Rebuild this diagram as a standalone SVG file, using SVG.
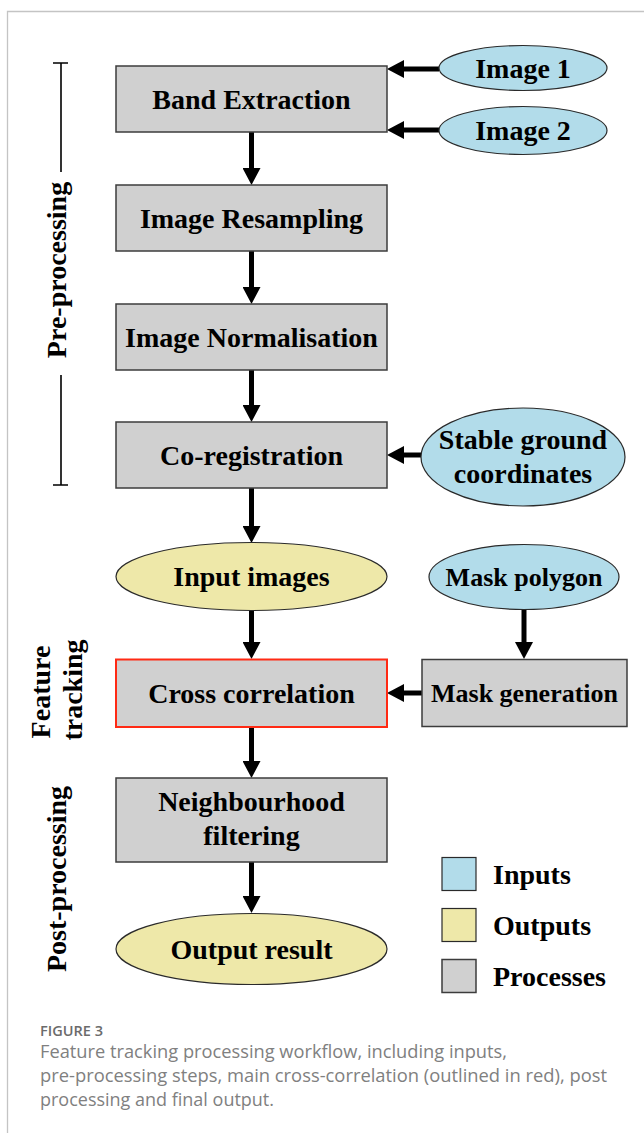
<svg xmlns="http://www.w3.org/2000/svg" width="644" height="1133" viewBox="0 0 644 1133">
<style>
.proc{fill:#d0d0d0;stroke:#3c3c3c;stroke-width:1.5}
.inp{fill:#b2dcea;stroke:#2a2a2a;stroke-width:1.2}
.out{fill:#eee8a9;stroke:#2a2a2a;stroke-width:1.2}
.red{stroke:#ff2a14;stroke-width:2}
.t{font-family:"Liberation Serif","Times New Roman",serif;font-weight:bold;font-size:28px;fill:#000;text-anchor:middle}
.ts{font-size:26px}
.lt{text-anchor:start}
.arr{stroke:#000;stroke-width:5;fill:none;marker-end:url(#ah)}
.br{stroke:#000;stroke-width:1.6;fill:none}
.cap{font-family:"Open Sans","Liberation Sans",sans-serif;fill:#808080;font-size:17.5px}
.fig{font-family:"Open Sans","Liberation Sans",sans-serif;fill:#6b6b6b;font-size:13.5px;font-weight:600}
</style>
<defs>
<marker id="ah" markerUnits="userSpaceOnUse" viewBox="0 0 17 18" markerWidth="17" markerHeight="18" refX="1" refY="9" orient="auto">
<path d="M0,0 L17,9 L0,18 z" fill="#000"/>
</marker>
</defs>
<rect width="644" height="1133" fill="#fff"/>
<path d="M7.5,1133 V11.5 H644" fill="none" stroke="#c4c4c4" stroke-width="1.3"/>

<g id="side-labels">
<path class="br" d="M53,63 H68 M61,63 V172 M61,375 V485 M53,485 H68"/>
<text class="t" x="66" y="270" transform="rotate(-90 66 270)">Pre-processing</text>
<text class="t" x="50" y="692" transform="rotate(-90 50 692)">Feature</text>
<text class="t" x="82" y="690" transform="rotate(-90 82 690)">tracking</text>
<text class="t" x="66" y="879" transform="rotate(-90 66 879)">Post-processing</text>
</g>

<g id="connectors">
<path class="arr" d="M439,69 H403"/>
<path class="arr" d="M439,130 H403"/>
<path class="arr" d="M421,455 H403"/>
<path class="arr" d="M422,693 H403"/>
<path class="arr" d="M251.5,132 V169"/>
<path class="arr" d="M251.5,251 V288"/>
<path class="arr" d="M251.5,370 V406"/>
<path class="arr" d="M251.5,488 V527"/>
<path class="arr" d="M251.5,610 V643"/>
<path class="arr" d="M251.5,727 V762"/>
<path class="arr" d="M251.5,862 V897"/>
<path class="arr" d="M524,609 V643"/>
</g>

<g id="band-extraction">
<rect class="proc" x="116" y="66" width="271" height="66"/>
<text class="t" x="251.5" y="109">Band Extraction</text>
</g>
<g id="image-1">
<ellipse class="inp" cx="523" cy="68" rx="84" ry="22.5"/>
<text class="t" x="523" y="78">Image 1</text>
</g>
<g id="image-2">
<ellipse class="inp" cx="523" cy="130.5" rx="84" ry="24"/>
<text class="t" x="523" y="140">Image 2</text>
</g>
<g id="image-resampling">
<rect class="proc" x="116" y="185" width="271" height="66"/>
<text class="t" x="251.5" y="228">Image Resampling</text>
</g>
<g id="image-normalisation">
<rect class="proc" x="116" y="304" width="271" height="66"/>
<text class="t" x="251.5" y="347">Image Normalisation</text>
</g>
<g id="co-registration">
<rect class="proc" x="116" y="422" width="271" height="66"/>
<text class="t" x="251.5" y="465">Co-registration</text>
</g>
<g id="stable-ground">
<ellipse class="inp" cx="523" cy="457" rx="102" ry="49"/>
<text class="t" x="523" y="449">Stable ground</text>
<text class="t" x="523" y="483">coordinates</text>
</g>
<g id="input-images">
<ellipse class="out" cx="251.5" cy="576.5" rx="135.5" ry="34"/>
<text class="t" x="251.5" y="586">Input images</text>
</g>
<g id="mask-polygon">
<ellipse class="inp" cx="524" cy="577" rx="95" ry="32.5"/>
<text class="t ts" x="524" y="586">Mask polygon</text>
</g>
<g id="cross-correlation">
<rect class="proc red" x="116" y="659.5" width="271" height="67.5"/>
<text class="t" x="251.5" y="703">Cross correlation</text>
</g>
<g id="mask-generation">
<rect class="proc" x="422" y="659.5" width="205" height="67"/>
<text class="t ts" x="524.5" y="702">Mask generation</text>
</g>
<g id="neighbourhood-filtering">
<rect class="proc" x="116" y="778" width="271" height="84"/>
<text class="t" x="251.5" y="811">Neighbourhood</text>
<text class="t" x="251.5" y="845">filtering</text>
</g>
<g id="output-result">
<ellipse class="out" cx="251.5" cy="949" rx="135.5" ry="35.5"/>
<text class="t" x="251.5" y="959">Output result</text>
</g>

<g id="legend">
<rect class="inp" x="442" y="857.5" width="34" height="33" stroke="#555"/>
<text class="t lt" x="493" y="884">Inputs</text>
<rect class="out" x="442" y="908.5" width="34" height="33" stroke="#555"/>
<text class="t lt" x="493" y="935">Outputs</text>
<rect class="proc" x="442" y="959.5" width="34" height="33" stroke="#555"/>
<text class="t lt" x="493" y="986">Processes</text>
</g>

<g id="caption">
<text class="fig" x="40" y="1036" textLength="63" lengthAdjust="spacingAndGlyphs">FIGURE 3</text>
<text class="cap" x="40" y="1058" textLength="467" lengthAdjust="spacingAndGlyphs">Feature tracking processing workflow, including inputs,</text>
<text class="cap" x="40" y="1082" textLength="567" lengthAdjust="spacingAndGlyphs">pre-processing steps, main cross-correlation (outlined in red), post</text>
<text class="cap" x="40" y="1106" textLength="234" lengthAdjust="spacingAndGlyphs">processing and final output.</text>
</g>
</svg>
